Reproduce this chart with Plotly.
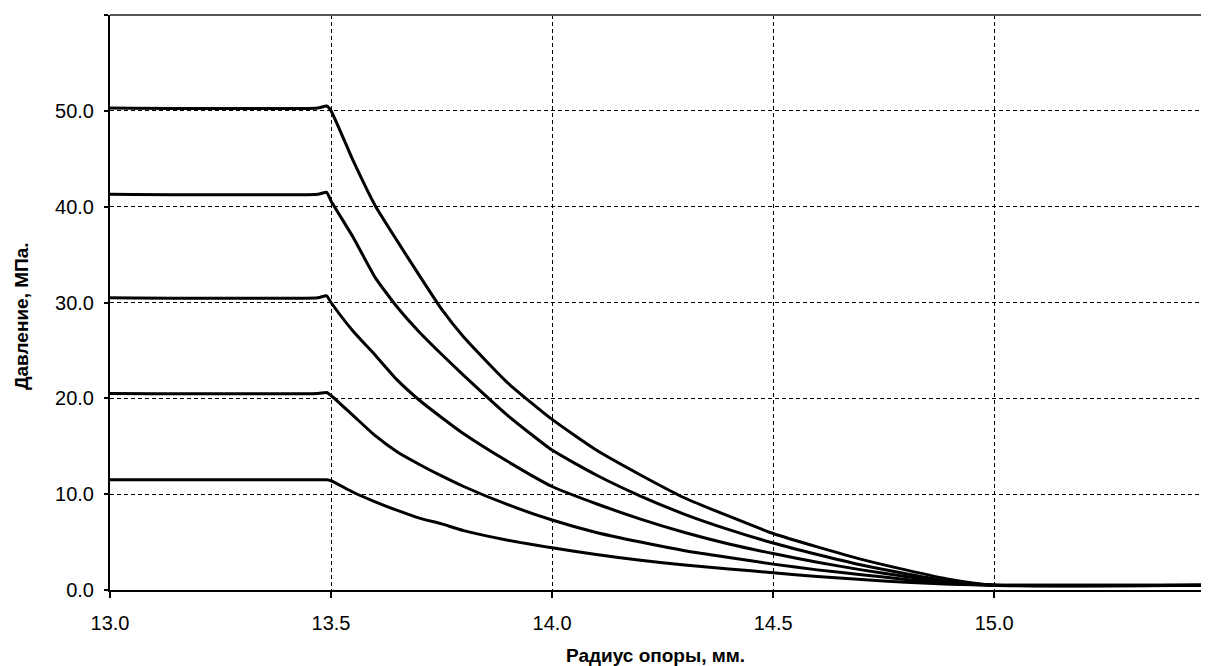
import plotly.graph_objects as go

x = [13.0, 13.47, 13.49, 13.5, 13.55, 13.6, 13.65, 13.7, 13.75, 13.8, 13.9, 14.0,
     14.1, 14.2, 14.3, 14.4, 14.5, 14.6, 14.7, 14.8, 14.9, 15.0, 15.486]

p50 = [50.3, 50.3, 50.5, 50.0, 44.8, 40.1, 36.4, 32.8, 29.3, 26.4, 21.6, 17.8,
       14.6, 12.0, 9.6, 7.7, 5.9, 4.5, 3.2, 2.1, 1.1, 0.5, 0.5]
p41 = [41.3, 41.3, 41.5, 40.6, 36.8, 32.6, 29.5, 26.9, 24.6, 22.4, 18.2, 14.6,
       12.0, 9.8, 7.9, 6.3, 4.9, 3.7, 2.6, 1.7, 0.9, 0.5, 0.5]
p30 = [30.5, 30.5, 30.7, 30.0, 27.0, 24.5, 21.9, 19.8, 18.0, 16.3, 13.4, 10.8,
       9.0, 7.4, 6.0, 4.8, 3.8, 2.9, 2.1, 1.4, 0.8, 0.5, 0.5]
p20 = [20.5, 20.5, 20.6, 20.3, 18.2, 16.1, 14.4, 13.1, 11.9, 10.8, 8.9, 7.3,
       6.0, 5.0, 4.1, 3.4, 2.7, 2.1, 1.6, 1.1, 0.7, 0.5, 0.5]
p11 = [11.5, 11.5, 11.5, 11.4, 10.2, 9.2, 8.3, 7.5, 6.9, 6.2, 5.2, 4.4,
       3.7, 3.1, 2.6, 2.2, 1.8, 1.4, 1.1, 0.8, 0.6, 0.5, 0.5]

x_ticks = [13.0, 13.5, 14.0, 14.5, 15.0]
x_labels = ["13.0", "13.5", "14.0", "14.5", "15.0"]
y_ticks = [0, 10, 20, 30, 40, 50, 60]
y_labels = ["0.0", "10.0", "20.0", "30.0", "40.0", "50.0", ""]

x_title = "Радиус опоры, мм."
y_title = "Давление, МПа."

fig = go.Figure()
for ys in [p11, p20, p30, p41, p50]:
    fig.add_trace(go.Scatter(x=x, y=ys, mode="lines",
                             line=dict(color="black", width=3, shape="spline", smoothing=0.5),
                             showlegend=False, hoverinfo="skip"))

font = "Liberation Sans, Arial, sans-serif"
# page body has an 8px default margin; compensate so plot area sits at 110..1209 x 15..590
fig.update_layout(
    width=1201, height=658,
    margin=dict(l=102, r=0, t=7, b=76, autoexpand=False),
    paper_bgcolor="white", plot_bgcolor="white",
    font=dict(family=font, color="black"),
    showlegend=False,
)
fig.update_xaxes(
    range=[13.0, 15.486], tickvals=x_ticks, ticktext=x_labels,
    showline=True, linecolor="black", linewidth=2,
    ticks="outside", ticklen=6, tickwidth=2, tickcolor="black",
    ticklabelstandoff=8, automargin=False,
    tickfont=dict(size=20, family=font),
    showgrid=True, gridcolor="black", gridwidth=1, griddash="4px,3px",
    zeroline=False,
)
fig.update_yaxes(
    range=[0, 60], tickvals=y_ticks, ticktext=y_labels,
    showline=True, linecolor="black", linewidth=2,
    ticks="outside", ticklen=4, tickwidth=2, tickcolor="black",
    ticklabelstandoff=6, automargin=False,
    tickfont=dict(size=20, family=font),
    showgrid=True, gridcolor="black", gridwidth=1, griddash="4px,3px",
    zeroline=False,
)
fig.add_annotation(text="<b>" + x_title + "</b>", xref="paper", yref="paper",
                   x=0.496, y=0, yshift=-65, xanchor="center", yanchor="middle",
                   showarrow=False, font=dict(size=19, family=font, color="black"))
fig.add_annotation(text="<b>" + y_title + "</b>", xref="paper", yref="paper",
                   x=0, xshift=-89, y=0.4765, xanchor="center", yanchor="middle",
                   textangle=-90, showarrow=False,
                   font=dict(size=19, family=font, color="black"))
fig.add_shape(type="line", xref="paper", yref="paper", x0=0, x1=1, y0=1, y1=1,
              line=dict(color="#555555", width=2), layer="above")

fig.write_html("out.html")
